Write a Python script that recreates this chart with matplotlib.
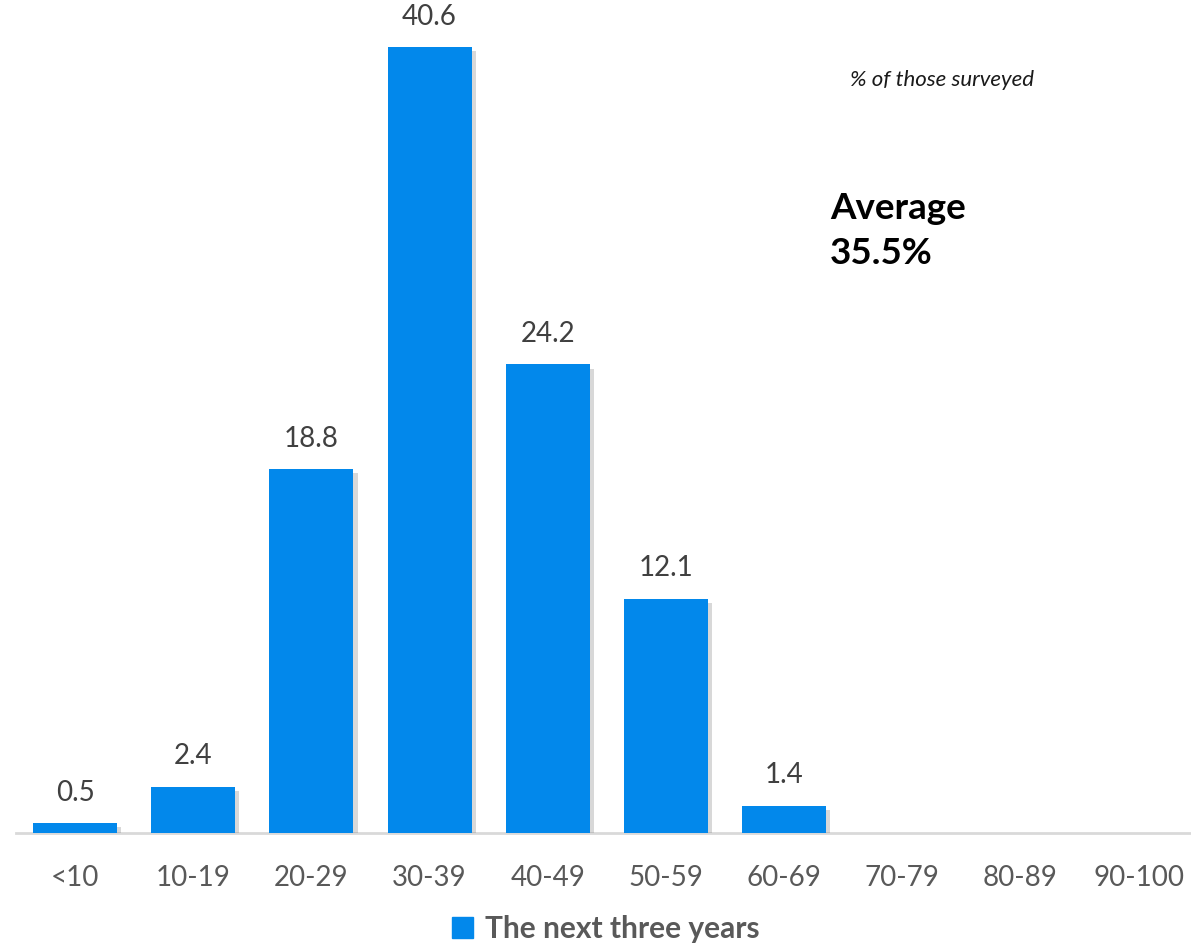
import matplotlib.pyplot as plt
import matplotlib.patheffects as pe
from matplotlib.patches import Patch
import numpy as np

categories = ["<10", "10-19", "20-29", "30-39", "40-49", "50-59", "60-69",
              "70-79", "80-89", "90-100"]
values = [0.5, 2.4, 18.8, 40.6, 24.2, 12.1, 1.4, None, None, None]
series_name = "The next three years"
note = "% of those surveyed"
average_text = "Average\n35.5%"

BLUE = "#0288EB"
plt.rcParams['font.family'] = ['Lato', 'DejaVu Sans']

fig = plt.figure(figsize=(11.91, 9.44), dpi=100)
ax = fig.add_axes([16 / 1191, 111 / 944, 1181.7 / 1191, 833 / 944])

x = np.arange(len(categories))
heights = [v if v is not None else 0 for v in values]
bars = ax.bar(x, heights, width=0.71, color=BLUE, zorder=3)
for b, v in zip(bars, values):
    if v is None:
        b.set_visible(False)
        continue
    b.set_path_effects([pe.SimplePatchShadow(offset=(3, -3), shadow_rgbFace='gray',
                                             alpha=0.3), pe.Normal()])
    ax.text(b.get_x() + b.get_width() / 2, v + 0.9, f"{v:.1f}",
            ha='center', va='bottom', fontsize=20, color='#404040')

ax.set_xlim(-0.5, len(categories) - 0.5)
ax.set_ylim(0, 833 / 19.36)
ax.set_xticks(x)
ax.set_xticklabels(categories, fontsize=20, color='#595959')
ax.tick_params(axis='x', length=0, pad=23)
ax.set_yticks([])
for s in ['top', 'right', 'left']:
    ax.spines[s].set_visible(False)
ax.spines['bottom'].set_color('#D9D9D9')
ax.spines['bottom'].set_linewidth(2)
ax.spines['bottom'].set_bounds(-0.5, 9.5)
ax.patch.set_alpha(0)

fig.text(942 / 1191, 1 - 80 / 944, note, ha='center', va='center',
         fontsize=16, style='italic', color='#1a1a1a')
fig.text(830 / 1191, 1 - 231 / 944, average_text, ha='left', va='center',
         fontsize=26.5, fontweight='bold', color='black', linespacing=1.45)

fig.legend(handles=[Patch(color=BLUE, label=series_name)],
           loc='center', bbox_to_anchor=(606 / 1191, 1 - 929 / 944),
           frameon=False, handlelength=0.7, handleheight=0.7, handletextpad=0.4,
           prop={'size': 21.5, 'weight': 'bold'}, labelcolor='#595959')

fig.savefig("out.png", dpi=100)
